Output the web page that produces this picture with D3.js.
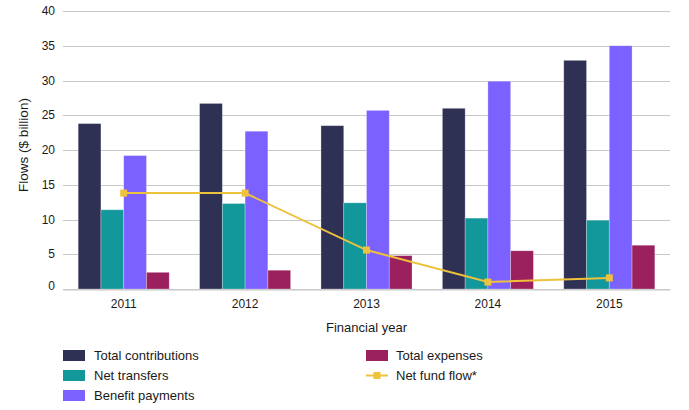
<!DOCTYPE html>
<html>
<head>
<meta charset="utf-8">
<script src="https://cdn.jsdelivr.net/npm/d3@7"></script>
<style>
  body { margin: 0; background: #fff; }
  text { font-family: "Liberation Sans", Arial, sans-serif; fill: #1a1a1a; }
</style>
</head>
<body>
<div id="chart"></div>
<script>
const years = ["2011", "2012", "2013", "2014", "2015"];
const totalContributions = [23.8, 26.7, 23.5, 26.0, 32.9];
const netTransfers = [11.4, 12.3, 12.4, 10.2, 9.9];
const benefitPayments = [19.2, 22.7, 25.7, 29.9, 35.0];
const totalExpenses = [2.4, 2.7, 4.8, 5.5, 6.3];
const netFundFlow = [13.8, 13.8, 5.6, 1.0, 1.6];
const yTicks = [0, 5, 10, 15, 20, 25, 30, 35, 40];

const width = 689;
const height = 410;
const margin = { top: 11, right: 19, bottom: 121, left: 63 };

const barSeries = [
  { name: "Total contributions", values: totalContributions, color: "#2e3054" },
  { name: "Net transfers", values: netTransfers, color: "#12979a" },
  { name: "Benefit payments", values: benefitPayments, color: "#7b61ff" },
  { name: "Total expenses", values: totalExpenses, color: "#9a205e" }
];
const lineColor = "#eec23a";

const svg = d3.select("#chart")
  .append("svg")
  .attr("width", width)
  .attr("height", height);

// scales
const x = d3.scaleBand()
  .domain(years)
  .range([margin.left, width - margin.right])
  .paddingInner(0.25)
  .paddingOuter(0.125);

const xSub = d3.scaleBand()
  .domain(barSeries.map(d => d.name))
  .range([0, x.bandwidth()]);

const y = d3.scaleLinear()
  .domain([0, 40])
  .range([height - margin.bottom, margin.top]);

// gridlines
svg.append("g")
  .selectAll("line")
  .data(yTicks)
  .join("line")
  .attr("x1", margin.left)
  .attr("x2", width - margin.right)
  .attr("y1", d => Math.round(y(d)) + 0.5)
  .attr("y2", d => Math.round(y(d)) + 0.5)
  .attr("stroke", "#c8c8c8")
  .attr("stroke-width", 1);

// y tick labels
svg.append("g")
  .selectAll("text")
  .data(yTicks)
  .join("text")
  .attr("x", 55)
  .attr("y", d => y(d))
  .attr("dy", d => d === 0 ? "0.1em" : "0.35em")
  .attr("text-anchor", "end")
  .attr("font-size", "12px")
  .text(d => d);

// y axis label
svg.append("text")
  .attr("transform", `translate(28, ${y(20) - 5}) rotate(-90)`)
  .attr("text-anchor", "middle")
  .attr("font-size", "13.5px")
  .text("Flows ($ billion)");

// bars
svg.append("g")
  .selectAll("g")
  .data(barSeries)
  .join("g")
  .attr("fill", d => d.color)
  .selectAll("rect")
  .data(s => s.values.map((v, i) => ({ name: s.name, year: years[i], value: v })))
  .join("rect")
  .attr("x", d => x(d.year) + xSub(d.name))
  .attr("y", d => y(d.value))
  .attr("width", xSub.bandwidth())
  .attr("height", d => y(0) - y(d.value))
  .attr("stroke", "rgba(255,255,255,0.35)")
  .attr("stroke-width", 0.8);

// x axis (labels only, no ticks)
const xAxis = svg.append("g")
  .attr("transform", `translate(0, ${Math.round(y(0)) + 0.5})`)
  .call(d3.axisBottom(x).tickSize(0).tickPadding(10));
xAxis.select(".domain").attr("stroke", "#c8c8c8");
xAxis.selectAll("text")
  .attr("font-family", "Liberation Sans, Arial, sans-serif")
  .attr("font-size", "12px")
  .attr("fill", "#1a1a1a");

svg.append("text")
  .attr("x", (margin.left + width - margin.right) / 2)
  .attr("y", 332)
  .attr("text-anchor", "middle")
  .attr("font-size", "13px")
  .text("Financial year");

// net fund flow line
const linePoints = netFundFlow.map((v, i) => ({ year: years[i], value: v }));
const line = d3.line()
  .x(d => x(d.year) + x.bandwidth() / 2)
  .y(d => y(d.value));

svg.append("path")
  .datum(linePoints)
  .attr("fill", "none")
  .attr("stroke", lineColor)
  .attr("stroke-width", 2)
  .attr("d", line);

svg.append("g")
  .selectAll("rect")
  .data(linePoints)
  .join("rect")
  .attr("x", d => x(d.year) + x.bandwidth() / 2 - 3.5)
  .attr("y", d => y(d.value) - 3.5)
  .attr("width", 7)
  .attr("height", 7)
  .attr("fill", lineColor);

// legend
const legendItems = [
  { name: "Total contributions", color: "#2e3054", type: "rect", col: 0, row: 0 },
  { name: "Net transfers", color: "#12979a", type: "rect", col: 0, row: 1 },
  { name: "Benefit payments", color: "#7b61ff", type: "rect", col: 0, row: 2 },
  { name: "Total expenses", color: "#9a205e", type: "rect", col: 1, row: 0 },
  { name: "Net fund flow*", color: lineColor, type: "line", col: 1, row: 1 }
];

const legend = svg.append("g")
  .selectAll("g")
  .data(legendItems)
  .join("g")
  .attr("transform", d => `translate(${d.col === 0 ? 63 : 366}, ${350 + d.row * 20})`);

legend.filter(d => d.type === "rect")
  .append("rect")
  .attr("width", 22)
  .attr("height", 11)
  .attr("fill", d => d.color);

legend.filter(d => d.type === "line")
  .append("line")
  .attr("x1", 0)
  .attr("x2", 22)
  .attr("y1", 5.5)
  .attr("y2", 5.5)
  .attr("stroke", d => d.color)
  .attr("stroke-width", 2);

legend.filter(d => d.type === "line")
  .append("rect")
  .attr("x", 7.5)
  .attr("y", 2)
  .attr("width", 7)
  .attr("height", 7)
  .attr("fill", d => d.color);

legend.append("text")
  .attr("x", d => d.col === 0 ? 31 : 30)
  .attr("y", 5.5)
  .attr("dy", "0.35em")
  .attr("font-size", "13px")
  .text(d => d.name);
</script>
</body>
</html>
